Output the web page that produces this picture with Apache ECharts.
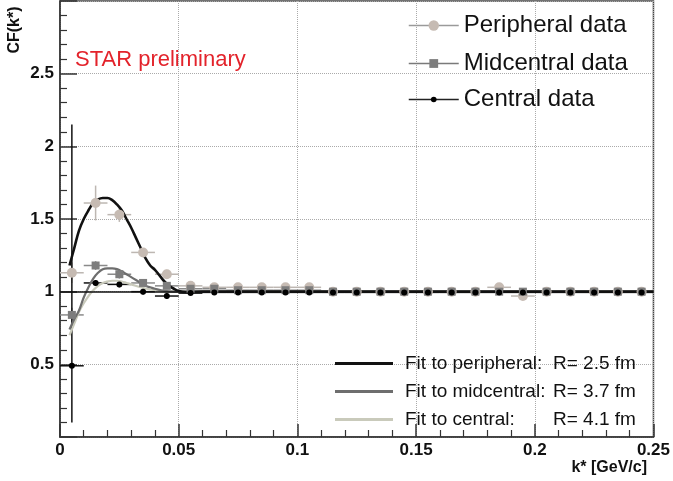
<!DOCTYPE html>
<html>
<head>
<meta charset="utf-8">
<script src="https://cdn.jsdelivr.net/npm/echarts@6/dist/echarts.min.js"></script>
<style>html,body{margin:0;padding:0;background:#fff;}#c{width:673px;height:481px;}</style>
</head>
<body>
<div id="c"></div>
<script>
// ---- data ----
const binCenters = [0.005,0.015,0.025,0.035,0.045,0.055,0.065,0.075,0.085,0.095,0.105,0.115,0.125,0.135,0.145,0.155,0.165,0.175,0.185,0.195,0.205,0.215,0.225,0.235,0.245];
const binHalfWidth = 0.005;

const peripheralY   = [1.13,1.61,1.53,1.27,1.12,1.04,1.03,1.03,1.03,1.03,1.03,1.00,1.00,1.00,1.00,1.00,1.00,1.00,1.03,0.97,1.00,1.00,1.00,1.00,1.00];
const peripheralErr = [0.07,0.12,0.05,0.03,0.03,0.01,0.01,0.01,0.01,0.01,0.01,0.01,0.01,0.01,0.01,0.01,0.01,0.01,0.01,0.01,0.01,0.01,0.01,0.01,0.01];

const midcentralY   = [0.84,1.18,1.12,1.06,1.04,1.02,1.02,1.01,1.01,1.01,1.01,1.00,1.00,1.00,1.00,1.00,1.00,1.00,1.00,1.00,1.00,1.00,1.00,1.00,1.00];
const midcentralErr = [0.05,0.03,0.03,0.02,0.02,0.01,0.01,0.01,0.01,0.01,0.01,0.01,0.01,0.01,0.01,0.01,0.01,0.01,0.01,0.01,0.01,0.01,0.01,0.01,0.01];

const centralY      = [0.49,1.06,1.05,1.00,0.97,0.99,0.995,0.995,0.995,0.995,0.995,0.995,0.995,0.995,0.995,0.995,0.995,0.995,0.995,0.995,0.995,0.995,0.995,0.995,0.995];
const centralLow    = [0.10,1.04,1.03,0.98,0.95,0.98,0.985,0.985,0.985,0.985,0.985,0.985,0.985,0.985,0.985,0.985,0.985,0.985,0.985,0.985,0.985,0.985,0.985,0.985,0.985];
const centralHigh   = [2.15,1.08,1.07,1.02,0.99,1.00,1.005,1.005,1.005,1.005,1.005,1.005,1.005,1.005,1.005,1.005,1.005,1.005,1.005,1.005,1.005,1.005,1.005,1.005,1.005];

const fitPeriphX = [0.004,0.006,0.008,0.010,0.012,0.014,0.016,0.018,0.020,0.022,0.024,0.026,0.028,0.030,0.032,0.034,0.036,0.038,0.040,0.042,0.044,0.046,0.048,0.050,0.053,0.060,0.250];
const fitPeriphY = [1.18,1.30,1.42,1.50,1.56,1.61,1.635,1.645,1.645,1.63,1.60,1.56,1.50,1.44,1.37,1.30,1.23,1.18,1.15,1.11,1.07,1.04,1.02,1.005,0.997,1.00,1.00];

const fitMidX = [0.004,0.006,0.008,0.010,0.012,0.014,0.016,0.018,0.020,0.022,0.024,0.026,0.028,0.030,0.032,0.034,0.036,0.038,0.040,0.044,0.048,0.060,0.250];
const fitMidY = [0.74,0.81,0.87,0.96,1.03,1.09,1.13,1.155,1.16,1.16,1.155,1.14,1.12,1.10,1.08,1.06,1.04,1.03,1.02,1.005,1.00,1.00,1.00];

const fitCenX = [0.004,0.006,0.008,0.010,0.012,0.014,0.016,0.018,0.020,0.022,0.024,0.026,0.028,0.030,0.034,0.038,0.042,0.046,0.060,0.250];
const fitCenY = [0.70,0.78,0.86,0.92,0.97,1.01,1.04,1.06,1.07,1.075,1.075,1.07,1.06,1.05,1.03,1.015,1.005,1.00,1.00,1.00];

const fitNames = ['Fit to peripheral:','Fit to midcentral:','Fit to central:'];
const fitRadii = ['2.5','3.7','4.1'];
const dataNames = ['Peripheral data','Midcentral data','Central data'];
const yTicks = [0,0.5,1,1.5,2,2.5,3];
const xTicks = [0,0.05,0.1,0.15,0.2,0.25];

// ---- build ----
const FONT = '"Liberation Sans", Arial, Helvetica, sans-serif';
const zip = (xs, ys) => xs.map((x,i)=>[x, ys[i]]);
const errData = (ys, lo, hi) => binCenters.map((x,i)=>[x, ys[i], lo[i], hi[i]]);

function errRender(color){
  return function(params, api){
    const x = api.value(0), y = api.value(1), lo = api.value(2), hi = api.value(3);
    const pL = api.coord([x - binHalfWidth, y]), pR = api.coord([x + binHalfWidth, y]);
    const pLo = api.coord([x, lo]), pHi = api.coord([x, hi]);
    return {type:'group', children:[
      {type:'line', shape:{x1:pL[0],y1:pL[1],x2:pR[0],y2:pR[1]}, style:{stroke:color, lineWidth:1.5}},
      {type:'line', shape:{x1:pLo[0],y1:pLo[1],x2:pHi[0],y2:pHi[1]}, style:{stroke:color, lineWidth:1.5}}
    ]};
  };
}

const periphColor = '#c6bbb3', midColor = '#7d7d7d', cenColor = '#000000';
const dataLegendLine = ['#9a9a9a','#7a7a7a','#222222'];
const dataLegendTop = [7, 45, 81];
const dataLegendSize = [13, 11, 7];
const fitColors = ['#111111','#6e6e6e','#c9cabb'];
const fitWidths = [3, 2.2, 2.2];

const dataLegends = dataNames.map((n,i)=>({
  left:403, top:dataLegendTop[i], orient:'vertical', itemWidth:50, itemHeight:dataLegendSize[i],
  data:[{name:n, lineStyle:{width:1.5, color:dataLegendLine[i], opacity:1}}],
  textStyle:{fontFamily:FONT, fontSize:24, color:'#111', lineHeight:27},
  selectedMode:false
}));

const chart = echarts.init(document.getElementById('c'), null, {renderer:'canvas'});
chart.setOption({
  animation:false,
  backgroundColor:'#ffffff',
  grid:{left:60, right:17, top:1, bottom:44, show:true, borderColor:'#444', borderWidth:1.5, backgroundColor:'transparent'},
  xAxis:{
    type:'value', min:xTicks[0], max:xTicks[xTicks.length-1], interval:0.05,
    axisLine:{show:true, onZero:false, lineStyle:{color:'#333', width:1.5}},
    axisTick:{show:true, inside:true, length:13, lineStyle:{color:'#333', width:1.5}},
    minorTick:{show:true, splitNumber:5, length:7, lineStyle:{color:'#333', width:1.2}},
    splitLine:{show:true, lineStyle:{color:'#aaa', type:'dotted', width:1}},
    axisLabel:{color:'#111', fontFamily:FONT, fontWeight:'bold', fontSize:17, margin:5,
      formatter: v => String(+v.toFixed(3))}
  },
  yAxis:{
    type:'value', min:yTicks[0], max:yTicks[yTicks.length-1], interval:0.5,
    axisLine:{show:true, onZero:false, lineStyle:{color:'#333', width:1.5}},
    axisTick:{show:true, inside:true, length:17, lineStyle:{color:'#333', width:1.5}},
    minorTick:{show:true, splitNumber:5, length:7, lineStyle:{color:'#333', width:1.2}},
    splitLine:{show:true, lineStyle:{color:'#aaa', type:'dotted', width:1}},
    axisLabel:{color:'#111', fontFamily:FONT, fontWeight:'bold', fontSize:17, margin:6,
      formatter: v => (v===yTicks[0] || v===yTicks[yTicks.length-1]) ? '' : String(+v.toFixed(2))}
  },
  legend:dataLegends.concat([
    {
      left:330, top:349, orient:'vertical', itemWidth:58, itemHeight:3, itemGap:9,
      data: fitNames.map((n,i)=>({name:n, icon:'rect', itemStyle:{color:fitColors[i], borderWidth:0}, lineStyle:{width:fitWidths[i], color:fitColors[i], opacity:1}})),
      formatter: name => { const i = fitNames.indexOf(name); return '{a|' + name + '}{b|R= ' + fitRadii[i] + ' fm}'; },
      textStyle:{fontFamily:FONT, fontSize:19, color:'#111',
        rich:{a:{fontFamily:FONT, fontSize:19, color:'#111', width:148, padding:[0,0,0,7]}, b:{fontFamily:FONT, fontSize:19, color:'#111'}}},
      selectedMode:false
    }
  ]),
  graphic:[
    {type:'text', left:75, top:49, style:{text:'STAR preliminary', fill:'#e3232b', font:'22px "Liberation Sans", Arial, sans-serif'}},
    {type:'text', x:15, y:30, rotation:Math.PI/2, style:{text:'CF(k*)', fill:'#111', font:'bold 16px "Liberation Sans", Arial, sans-serif', align:'center', verticalAlign:'middle'}},
    {type:'text', x:647, y:468, style:{text:'k* [GeV/c]', fill:'#111', font:'bold 16px "Liberation Sans", Arial, sans-serif', align:'right', verticalAlign:'middle'}}
  ],
  series:[
    {type:'custom', name:'errP', renderItem:errRender('#bdb7b2'), data:errData(peripheralY, peripheralY.map((y,i)=>y-peripheralErr[i]), peripheralY.map((y,i)=>y+peripheralErr[i])), z:2, silent:true},
    {type:'custom', name:'errM', renderItem:errRender('#8a8a8a'), data:errData(midcentralY, midcentralY.map((y,i)=>y-midcentralErr[i]), midcentralY.map((y,i)=>y+midcentralErr[i])), z:2, silent:true},
    {type:'custom', name:'errC', renderItem:errRender('#111'), data:errData(centralY, centralLow, centralHigh), z:2, silent:true},
    {type:'line', name:fitNames[2], data:zip(fitCenX, fitCenY), smooth:0.4, showSymbol:false, symbol:'none', lineStyle:{color:fitColors[2], width:fitWidths[2]}, itemStyle:{color:fitColors[2]}, z:3},
    {type:'line', name:fitNames[1], data:zip(fitMidX, fitMidY), smooth:0.4, showSymbol:false, symbol:'none', lineStyle:{color:fitColors[1], width:fitWidths[1]}, itemStyle:{color:fitColors[1]}, z:3},
    {type:'line', name:fitNames[0], data:zip(fitPeriphX, fitPeriphY), smooth:0.4, showSymbol:false, symbol:'none', lineStyle:{color:fitColors[0], width:2.6}, itemStyle:{color:fitColors[0]}, z:4,
      markLine:{silent:true, symbol:'none', label:{show:false}, lineStyle:{color:'#111', width:1.5, type:'solid'}, data:[{yAxis:1}]}},
    {type:'line', name:dataNames[0], data:zip(binCenters, peripheralY), symbol:'circle', symbolSize:10, showSymbol:true, lineStyle:{width:0}, itemStyle:{color:periphColor}, z:5},
    {type:'line', name:dataNames[1], data:zip(binCenters, midcentralY), symbol:'rect', symbolSize:8, showSymbol:true, lineStyle:{width:0}, itemStyle:{color:midColor}, z:6},
    {type:'line', name:dataNames[2], data:zip(binCenters, centralY), symbol:'circle', symbolSize:6, showSymbol:true, lineStyle:{width:0}, itemStyle:{color:cenColor}, z:7}
  ]
});
</script>
</body>
</html>
